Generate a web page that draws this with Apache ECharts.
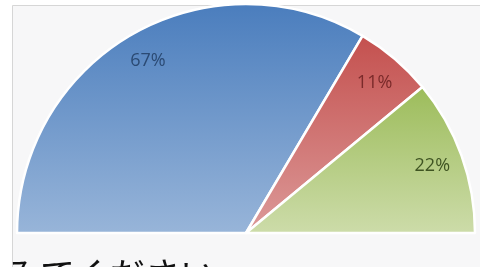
<!DOCTYPE html>
<html>
<head>
<meta charset="utf-8">
<script src="https://cdn.jsdelivr.net/npm/echarts@6/dist/echarts.min.js"></script>
<style>
  html, body { margin: 0; padding: 0; background: #fff; }
  #main { width: 480px; height: 267px; }
</style>
</head>
<body>
<div id="main"></div>
<script>
window.onload = function () {
    'use strict';

    var categories = ['A', 'B', 'C'];
    var values = [67, 11, 22];
    var labels = ['67%', '11%', '22%'];
    var caption = 'みてください';

    // top / bottom colours of each slice gradient, and label colours
    var topColors = ['#4a7dbd', '#c4504e', '#9cbc5a'];
    var bottomColors = ['#98b5d9', '#dc9a99', '#cddcaa'];
    var labelColors = ['#2b4a73', '#7a2a2a', '#3f5422'];

    var pieData = [];
    var labelData = [];
    for (var i = 0; i < values.length; i++) {
        pieData.push({
            name: categories[i],
            value: values[i],
            itemStyle: {
                color: new echarts.graphic.LinearGradient(0, 0, 0, 1, [
                    {offset: 0, color: topColors[i]},
                    {offset: 1, color: bottomColors[i]}
                ])
            }
        });
        labelData.push({
            name: categories[i],
            value: values[i],
            label: { color: labelColors[i] }
        });
    }

    var option = {
        backgroundColor: '#fff',
        animation: false,
        graphic: [
            {
                type: 'rect',
                shape: { x: 12.5, y: 5.5, width: 480, height: 280 },
                style: { fill: '#f7f7f8', stroke: '#d6d6d6', lineWidth: 1 },
                z: -10,
                silent: true
            },
            {
                type: 'text',
                left: 5,
                top: 257,
                z: 10,
                style: {
                    text: caption,
                    fill: '#111',
                    font: '35px "Noto Sans CJK JP"'
                }
            }
        ],
        series: [
            {
                type: 'pie',
                center: [246, 233],
                radius: [0, 229],
                startAngle: 180,
                endAngle: 0,
                clockwise: true,
                itemStyle: { borderColor: '#fff', borderWidth: 2.5 },
                label: { show: false },
                labelLine: { show: false },
                data: pieData
            },
            { // transparent ring only used to place labels near the rim
                type: 'pie',
                center: [246, 233],
                radius: [160, 230],
                startAngle: 180,
                endAngle: 0,
                clockwise: true,
                silent: true,
                itemStyle: { color: 'rgba(0,0,0,0)' },
                label: {
                    show: true,
                    position: 'inside',
                    fontFamily: '"Open Sans", sans-serif',
                    fontSize: 18,
                    formatter: function (p) { return labels[p.dataIndex]; }
                },
                labelLine: { show: false },
                data: labelData
            }
        ]
    };

    var myChart = echarts.init(document.getElementById('main'));
    myChart.setOption(option);
};
</script>
</body>
</html>
